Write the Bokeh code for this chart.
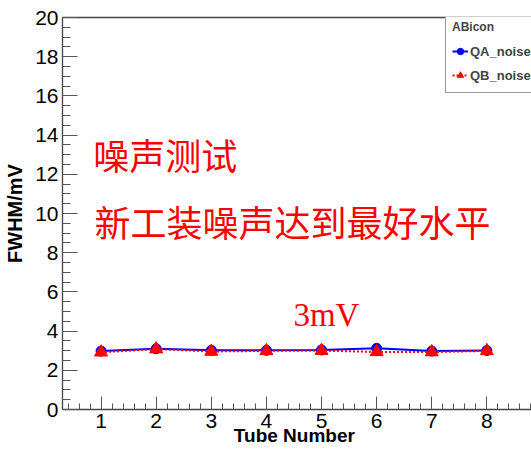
import numpy as np
from bokeh.plotting import figure
from bokeh.models import FixedTicker, Label, Range1d, LinearAxis, Legend, LegendItem
from bokeh.embed import file_html
from bokeh.resources import INLINE

tubes = [1, 2, 3, 4, 5, 6, 7, 8]
qa_noise = [2.98, 3.10, 3.02, 3.02, 3.04, 3.12, 2.98, 3.01]
qb_noise = [2.92, 3.08, 2.96, 2.99, 3.00, 2.94, 2.93, 2.99]
x_ticks = [1, 2, 3, 4, 5, 6, 7, 8]
y_ticks = [0, 2, 4, 6, 8, 10, 12, 14, 16, 18, 20]

p = figure(width=531, height=450, output_backend="svg", toolbar_location=None,
           x_range=Range1d(0.3, 8.81), y_range=Range1d(0, 20),
           min_border_left=62, min_border_right=0, min_border_top=17, min_border_bottom=41)
p.background_fill_color = "white"
p.border_fill_color = "white"
p.outline_line_color = None
p.grid.visible = False

xa = p.below[0]
ya = p.left[0]
xa.ticker = FixedTicker(ticks=x_ticks, minor_ticks=list(np.round(np.arange(0.4, 8.81, 0.2), 2)))
ya.ticker = FixedTicker(ticks=y_ticks, minor_ticks=list(np.arange(0, 20.01, 0.5)))

for ax in (xa, ya):
    ax.axis_line_color = "#444444"
    ax.axis_line_width = 1.3
    ax.major_tick_line_color = "#555555"
    ax.minor_tick_line_color = "#555555"
    ax.major_tick_out = 0
    ax.minor_tick_out = 0
    ax.major_label_text_font = "Liberation Sans"
    ax.major_label_text_font_size = "21px"
    ax.major_label_text_color = "black"
    ax.axis_label_text_font = "Liberation Sans"
    ax.axis_label_text_font_style = "bold"
    ax.axis_label_text_color = "black"

xa.major_tick_in = 13
xa.minor_tick_in = 6
xa.major_label_standoff = 4
xa.major_label_text_font_size = "21px"
xa.axis_label = "Tube  Number"
xa.axis_label_text_font_size = "19px"
xa.axis_label_standoff = -6

ya.major_tick_in = 15
ya.minor_tick_in = 8
ya.major_label_standoff = 4
ya.axis_label = "FWHM/mV"
ya.axis_label_text_font_size = "20px"
ya.axis_label_standoff = 6

# top frame line
top = LinearAxis(ticker=FixedTicker(ticks=[]), major_label_text_font_size="0px",
                 axis_line_color="#444444", axis_line_width=1.3,
                 major_tick_line_color=None, minor_tick_line_color=None)
p.add_layout(top, "above")

la = p.line(tubes, qa_noise, line_color="blue", line_width=2)
sa = p.scatter(tubes, qa_noise, marker="circle", size=10, fill_color="blue", line_color="blue")
lb = p.line(tubes, qb_noise, line_color="red", line_width=2, line_dash="2 2")
sb = p.scatter(tubes, qb_noise, marker="triangle", size=13, fill_color="red", line_color="red")

legend = Legend(items=[LegendItem(label="QA_noise", renderers=[la, sa]),
                       LegendItem(label="QB_noise", renderers=[lb, sb])],
                location=(383, 316))
legend.title = "ABicon"
legend.title_text_font = "Liberation Sans"
legend.title_text_font_style = "bold"
legend.title_text_font_size = "12px"
legend.title_standoff = 6
legend.label_text_font = "Liberation Sans"
legend.label_text_font_style = "bold"
legend.label_text_font_size = "13px"
legend.border_line_color = "#333333"
legend.border_line_width = 1
legend.background_fill_alpha = 1
legend.padding = 6
legend.margin = 0
legend.spacing = 2
legend.glyph_width = 16
legend.glyph_height = 22
legend.label_height = 22
legend.label_standoff = 2
legend.label_width = 80
p.add_layout(legend)

cjk = "Noto Sans CJK SC"
p.add_layout(Label(x=0.86, y=13.06, text="噪声测试", text_font=cjk, text_font_size="36px",
                   text_color="red", text_baseline="middle"))
p.add_layout(Label(x=0.88, y=9.64, text="新工装噪声达到最好水平", text_font=cjk, text_font_size="36px",
                   text_color="red", text_baseline="middle"))
p.add_layout(Label(x=4.49, y=4.8, text="3mV", text_font="Liberation Serif", text_font_size="33px",
                   text_color="red", text_baseline="alphabetic"))

open("out.html", "w").write(file_html(p, INLINE))
